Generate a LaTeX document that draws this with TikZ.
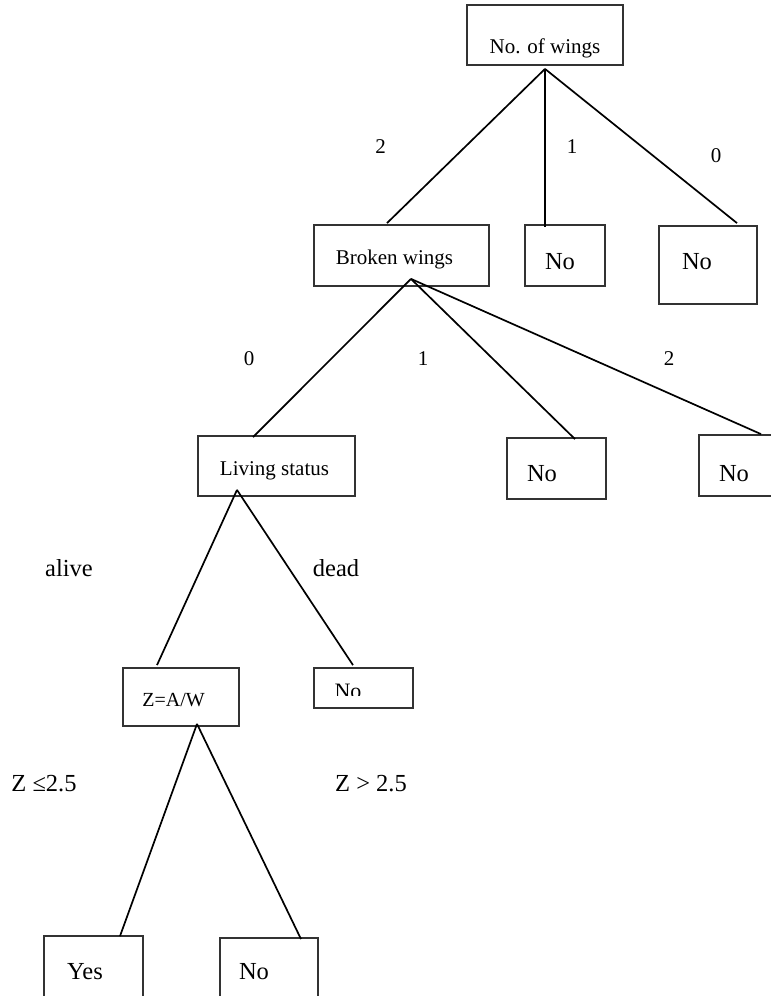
\documentclass[tikz,border=0pt]{standalone}
\usepackage{fontspec}
\setmainfont{Liberation Serif}
\usepackage{tikz}
\usetikzlibrary{positioning}
\newcommand{\smallsz}{\fontsize{21pt}{25pt}\selectfont}
\newcommand{\bigsz}{\fontsize{24.5pt}{29pt}\selectfont}

\begin{document}
\begin{tikzpicture}[
      x=1pt,y=-1pt,
      box/.style={draw=black!80,line width=1.8pt,rectangle,inner sep=0pt},
      txt/.style={anchor=base,inner sep=0pt},
      edge/.style={line width=1.7pt,draw=black},
      elabel/.style={anchor=base,inner sep=0pt,font=\smallsz},
      blabel/.style={anchor=base,inner sep=0pt,font=\bigsz}
    ]
      \useasboundingbox (0,0) rectangle (771,996);

      % decision boxes
      \node[box,minimum width=156pt,minimum height=60pt,
        label={[txt,font=\smallsz,yshift=-13pt]center:No. of wings}] (wings) at (545,35) {};
      \node[box,minimum width=175pt,minimum height=61pt,
        label={[txt,font=\smallsz,xshift=-7pt,yshift=-3.5pt]center:Broken wings}] (broken) at (401.5,255.5) {};
      \node[box,minimum width=80pt,minimum height=61pt,
        label={[txt,font=\bigsz,xshift=-5pt,yshift=-6.5pt]center:No}] (noA) at (565,255.5) {};
      \node[box,minimum width=98pt,minimum height=78pt,
        label={[txt,font=\bigsz,xshift=-11pt,yshift=3pt]center:No}] (noB) at (708,265) {};

      \node[box,minimum width=157pt,minimum height=60pt,
        label={[txt,font=\smallsz,xshift=-2pt,yshift=-5pt]center:Living status}] (living) at (276.5,466) {};
      \node[box,minimum width=99pt,minimum height=61pt,
        label={[txt,font=\bigsz,xshift=-14.5pt,yshift=-5.5pt]center:No}] (noC) at (556.5,468.5) {};
      \node[box,minimum width=98pt,minimum height=61pt,
        label={[txt,font=\bigsz,xshift=-14pt,yshift=-8.5pt]center:No}] (noD) at (748,465.5) {};

      \node[box,minimum width=116pt,minimum height=58pt,
        label={[txt,font=\fontsize{20pt}{24pt}\selectfont,xshift=-7.5pt,yshift=-3pt]center:Z=A/W}] (ratio) at (181,697) {};
      \node[box,minimum width=99pt,minimum height=40pt] (noE) at (363.5,688) {};
      \begin{scope}
        \clip (noE.north west) rectangle ([yshift=13pt]noE.south east);
        \node[txt,font=\fontsize{22pt}{26pt}\selectfont] (noEtext) at (348,698) {No};
      \end{scope}

      \node[box,minimum width=99pt,minimum height=74pt,
        label={[txt,font=\bigsz,xshift=-8.5pt,yshift=1pt]center:Yes}] (yes) at (93.5,973) {};
      \node[box,minimum width=98pt,minimum height=72pt,
        label={[txt,font=\bigsz,xshift=-15pt,yshift=2pt]center:No}] (noF) at (269,974) {};

      % branches
      \draw[edge] ([yshift=-3pt]wings.south) -- ([xshift=-14.5pt,yshift=1pt]broken.north);
      \draw[edge] ([yshift=-3pt]wings.south) -- ([xshift=-20pt,yshift=-3pt]noA.north);
      \draw[edge] ([yshift=-3pt]wings.south) -- ([xshift=29pt,yshift=2pt]noB.north);

      \draw[edge] ([xshift=9.5pt,yshift=8pt]broken.south) -- ([xshift=-23.5pt,yshift=-2pt]living.north);
      \draw[edge] ([xshift=9.5pt,yshift=8pt]broken.south) -- ([xshift=18.5pt,yshift=-2pt]noC.north);
      \draw[edge] ([xshift=9.5pt,yshift=8pt]broken.south) -- ([xshift=13pt]noD.north);

      \draw[edge] ([xshift=-39.5pt,yshift=7pt]living.south) -- ([xshift=-24pt,yshift=2pt]ratio.north);
      \draw[edge] ([xshift=-39.5pt,yshift=7pt]living.south) -- ([xshift=-10.5pt,yshift=2pt]noE.north);

      \draw[edge] ([xshift=16pt,yshift=3pt]ratio.south) -- ([xshift=26.5pt,yshift=-1pt]yes.north);
      \draw[edge] ([xshift=16pt,yshift=3pt]ratio.south) -- ([xshift=32pt,yshift=-2pt]noF.north);

      % branch labels
      \node[elabel] (w2) at (380.5,153) {2};
      \node[elabel] (w1) at (572,153) {1};
      \node[elabel] (w0) at (716,162) {0};

      \node[elabel] (b0) at (249,365) {0};
      \node[elabel] (b1) at (423,365) {1};
      \node[elabel] (b2) at (669,365) {2};

      \node[blabel] (alive) at (69,576) {alive};
      \node[blabel] (dead) at (336,576) {dead};

      \node[blabel] (zle) at (44,791) {Z ≤2.5};
      \node[blabel] (zgt) at (371,791) {Z > 2.5};
    \end{tikzpicture}
\end{document}
